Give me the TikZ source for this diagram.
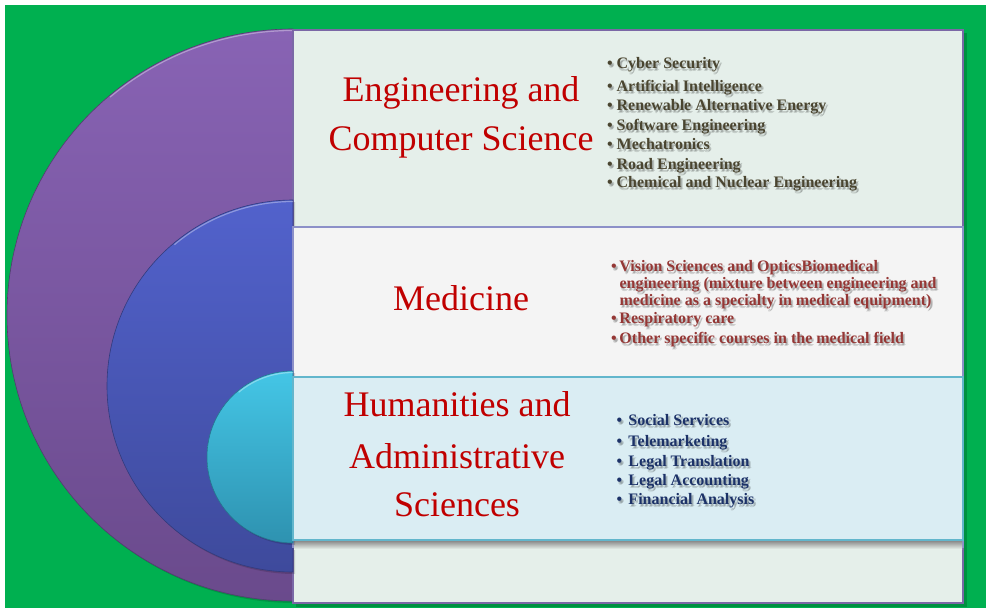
\documentclass[tikz,border=0pt]{standalone}
\usepackage{fontspec}
\setmainfont{Liberation Serif}
\definecolor{bggreen}{HTML}{00B050}
\definecolor{purpTop}{HTML}{8863B4}
\definecolor{purpBot}{HTML}{6A4A8C}
\definecolor{blueTop}{HTML}{5262CC}
\definecolor{blueBot}{HTML}{3E4A9C}
\definecolor{cyanTop}{HTML}{44C6E6}
\definecolor{cyanBot}{HTML}{2E92B0}
\definecolor{panelA}{HTML}{E5EFEA}
\definecolor{panelB}{HTML}{F4F4F4}
\definecolor{panelC}{HTML}{DAEDF3}
\definecolor{borderA}{HTML}{7B68A6}
\definecolor{borderB}{HTML}{8C90C8}
\definecolor{borderC}{HTML}{62B6CC}
\definecolor{headred}{HTML}{C00000}
\definecolor{olivetxt}{HTML}{4A4530}
\definecolor{medtxt}{HTML}{953735}
\definecolor{humtxt}{HTML}{1C3268}
\tikzset{
  heading/.style={anchor=base, inner sep=0pt, text=headred, font=\fontsize{36}{50}\selectfont},
  listtext/.style={anchor=base west, inner sep=0pt, font=\fontsize{16}{19}\selectfont\bfseries},
  panel/.style={line width=1.6pt},
}
\newcommand\shline[5]{%
  \node[listtext, text=black, opacity=.18] (#1s) at (#2+2.2,#3+2.2) {#5};
  \node[listtext, text=black, opacity=.14] (#1t) at (#2+1.2,#3+3.0) {#5};
  \node[listtext, text=#4] (#1) at (#2,#3) {#5};
}
\newcommand\bul[1]{\makebox[#1][l]{\textbullet}}
\begin{document}
\begin{tikzpicture}[x=1pt,y=-1pt]
\useasboundingbox (0,0) rectangle (986,608);
\fill[white] (0,0) rectangle (986,608);
\fill[bggreen] (5,5) rectangle (986,608);
% panel shadows
\fill[black,opacity=.18] (296,33) rectangle (967,607);
% half discs
\fill[black,opacity=.15] (295,31) arc (270:90:286) -- cycle;
\shade[top color=purpTop, bottom color=purpBot, draw=purpBot!80!black, line width=.6pt]
  (293,29) arc (270:90:286) -- cycle;
\draw[white,opacity=.35,line width=1.2pt] (293,30.5) arc (270:230:284.5);
% big panel
\draw[panel, draw=borderA, fill=panelA] (293,30) rectangle (963,603);
\fill[black,opacity=.15] (295,202) arc (270:90:186) -- cycle;
\shade[top color=blueTop, bottom color=blueBot, draw=blueBot!80!black, line width=.6pt]
  (293,200) arc (270:90:186) -- cycle;
\draw[white,opacity=.35,line width=1.2pt] (293,201.5) arc (270:230:184.5);
% medicine panel
\draw[panel, draw=borderB, fill=panelB] (293,227) rectangle (963,547);
\shade[top color=black!45, bottom color=panelA] (294,541) rectangle (962,549);
\fill[black,opacity=.15] (295,373) arc (270:90:86) -- cycle;
\shade[top color=cyanTop, bottom color=cyanBot, draw=cyanBot!80!black, line width=.6pt]
  (293,371) arc (270:90:86) -- cycle;
\draw[white,opacity=.35,line width=1.2pt] (293,372.5) arc (270:230:84.5);
% humanities panel
\draw[panel, draw=borderC, fill=panelC] (293,377) rectangle (963,540);
% headings
\node[heading] (eng1) at (461,101.5) {Engineering and};
\node[heading] (eng2) at (461,150) {Computer Science};
\node[heading] (med) at (461,310) {Medicine};
\node[heading] (hum1) at (457,416.5) {Humanities and};
\node[heading] (hum2) at (457,468) {Administrative};
\node[heading] (hum3) at (457,516.5) {Sciences};
% engineering list
\shline{e1}{607}{68.3}{olivetxt}{\bul{9.5pt}Cyber Security}
\shline{e2}{607}{91}{olivetxt}{\bul{9.5pt}Artificial Intelligence}
\shline{e3}{607}{110.7}{olivetxt}{\bul{9.5pt}Renewable Alternative Energy}
\shline{e4}{607}{130}{olivetxt}{\bul{9.5pt}Software Engineering}
\shline{e5}{607}{149.3}{olivetxt}{\bul{9.5pt}Mechatronics}
\shline{e6}{607}{169}{olivetxt}{\bul{9.5pt}Road Engineering}
\shline{e7}{607}{187.7}{olivetxt}{\bul{9.5pt}Chemical and Nuclear Engineering}
% medicine list
\shline{m1}{611}{271.7}{medtxt}{\bul{8.3pt}Vision Sciences and OpticsBiomedical}
\shline{m2}{619.3}{288.3}{medtxt}{engineering (mixture between engineering and}
\shline{m3}{619.3}{305}{medtxt}{medicine as a specialty in medical equipment)}
\shline{m4}{611}{323.3}{medtxt}{\bul{8.3pt}Respiratory care}
\shline{m5}{611}{343.3}{medtxt}{\bul{8.3pt}Other specific courses in the medical field}
% humanities list
\shline{h1}{616.5}{425}{humtxt}{\bul{11.8pt}Social Services}
\shline{h2}{616.5}{446}{humtxt}{\bul{11.8pt}Telemarketing}
\shline{h3}{616.5}{466}{humtxt}{\bul{11.8pt}Legal Translation}
\shline{h4}{616.5}{485}{humtxt}{\bul{11.8pt}Legal Accounting}
\shline{h5}{616.5}{504.3}{humtxt}{\bul{11.8pt}Financial Analysis}
\end{tikzpicture}
\end{document}
